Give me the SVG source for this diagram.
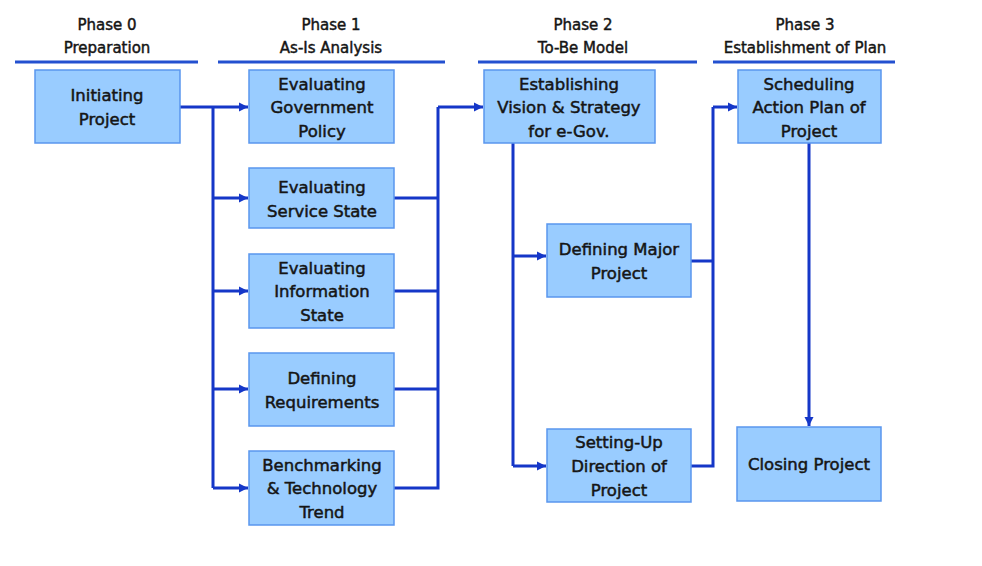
<svg xmlns="http://www.w3.org/2000/svg" width="982" height="566" viewBox="0 0 982 566">
<defs>
<style>
.box{fill:#99ccff;stroke:#5a96ee;stroke-width:1.5}
.t{font-family:"DejaVu Sans",Verdana,sans-serif;font-size:16.5px;fill:#151515;stroke:#151515;stroke-width:0.5;text-anchor:middle}
.h{font-family:"DejaVu Sans",Verdana,sans-serif;font-size:15px;fill:#151515;stroke:#151515;stroke-width:0.45;text-anchor:middle}
.hl{stroke:#2350d0;stroke-width:3}
.c{fill:none;stroke:#1537c8;stroke-width:3;stroke-linejoin:miter}
</style>
<marker id="ah" markerWidth="10" markerHeight="10" refX="9" refY="5" orient="auto" markerUnits="userSpaceOnUse">
<path d="M0,0.5 L9,5 L0,9.5 Z" fill="#1537c8"/>
</marker>
</defs>
<rect width="982" height="566" fill="#fff"/>
<g id="headers">
<text class="h" x="107" y="30">Phase 0</text>
<text class="h" x="107" y="53">Preparation</text>
<line class="hl" x1="15" y1="62" x2="198" y2="62"/>
<text class="h" x="331" y="30">Phase 1</text>
<text class="h" x="331" y="53">As-Is Analysis</text>
<line class="hl" x1="218" y1="62" x2="445" y2="62"/>
<text class="h" x="583" y="30">Phase 2</text>
<text class="h" x="583" y="53">To-Be Model</text>
<line class="hl" x1="478" y1="62" x2="697" y2="62"/>
<text class="h" x="805" y="30">Phase 3</text>
<text class="h" x="805" y="53">Establishment of Plan</text>
<line class="hl" x1="713" y1="62" x2="895" y2="62"/>
</g>
<g id="connectors">
<path class="c" d="M180,107 H213 M213,107 H248" marker-end="url(#ah)"/>
<path class="c" d="M213,107 V488"/>
<path class="c" d="M213,198 H248" marker-end="url(#ah)"/>
<path class="c" d="M213,291 H248" marker-end="url(#ah)"/>
<path class="c" d="M213,389 H248" marker-end="url(#ah)"/>
<path class="c" d="M213,488 H248" marker-end="url(#ah)"/>
<path class="c" d="M394,198 H438 M394,291 H438 M394,389 H438 M394,488 H438 V107"/>
<path class="c" d="M438,107 H483" marker-end="url(#ah)"/>
<path class="c" d="M513,143 V466"/>
<path class="c" d="M513,256 H546" marker-end="url(#ah)"/>
<path class="c" d="M513,466 H546" marker-end="url(#ah)"/>
<path class="c" d="M691,261 H713 M691,466 H713 V107"/>
<path class="c" d="M713,107 H737" marker-end="url(#ah)"/>
<path class="c" d="M809,143 V426" marker-end="url(#ah)"/>
</g>
<g id="n-initiating"><rect class="box" x="35" y="70" width="145" height="73"/>
<text class="t" x="107" y="101">Initiating</text><text class="t" x="107" y="125">Project</text></g>
<g id="n-gov"><rect class="box" x="249" y="70" width="145" height="73"/>
<text class="t" x="322" y="90">Evaluating</text><text class="t" x="322" y="113">Government</text><text class="t" x="322" y="137">Policy</text></g>
<g id="n-service"><rect class="box" x="249" y="168" width="145" height="60"/>
<text class="t" x="322" y="193">Evaluating</text><text class="t" x="322" y="217">Service State</text></g>
<g id="n-info"><rect class="box" x="249" y="254" width="145" height="74"/>
<text class="t" x="322" y="274">Evaluating</text><text class="t" x="322" y="297">Information</text><text class="t" x="322" y="321">State</text></g>
<g id="n-req"><rect class="box" x="249" y="353" width="145" height="73"/>
<text class="t" x="322" y="384">Defining</text><text class="t" x="322" y="408">Requirements</text></g>
<g id="n-bench"><rect class="box" x="249" y="451" width="145" height="74"/>
<text class="t" x="322" y="471">Benchmarking</text><text class="t" x="322" y="494">&amp; Technology</text><text class="t" x="322" y="518">Trend</text></g>
<g id="n-vision"><rect class="box" x="484" y="70" width="171" height="73"/>
<text class="t" x="569" y="90">Establishing</text><text class="t" x="569" y="113">Vision &amp; Strategy</text><text class="t" x="569" y="137">for e-Gov.</text></g>
<g id="n-major"><rect class="box" x="547" y="224" width="144" height="73"/>
<text class="t" x="619" y="255">Defining Major</text><text class="t" x="619" y="279">Project</text></g>
<g id="n-direction"><rect class="box" x="547" y="429" width="144" height="73"/>
<text class="t" x="619" y="448">Setting-Up</text><text class="t" x="619" y="472">Direction of</text><text class="t" x="619" y="496">Project</text></g>
<g id="n-schedule"><rect class="box" x="738" y="70" width="143" height="73"/>
<text class="t" x="809" y="90">Scheduling</text><text class="t" x="809" y="113">Action Plan of</text><text class="t" x="809" y="137">Project</text></g>
<g id="n-closing"><rect class="box" x="737" y="427" width="144" height="74"/>
<text class="t" x="809" y="470">Closing Project</text></g>
</svg>
